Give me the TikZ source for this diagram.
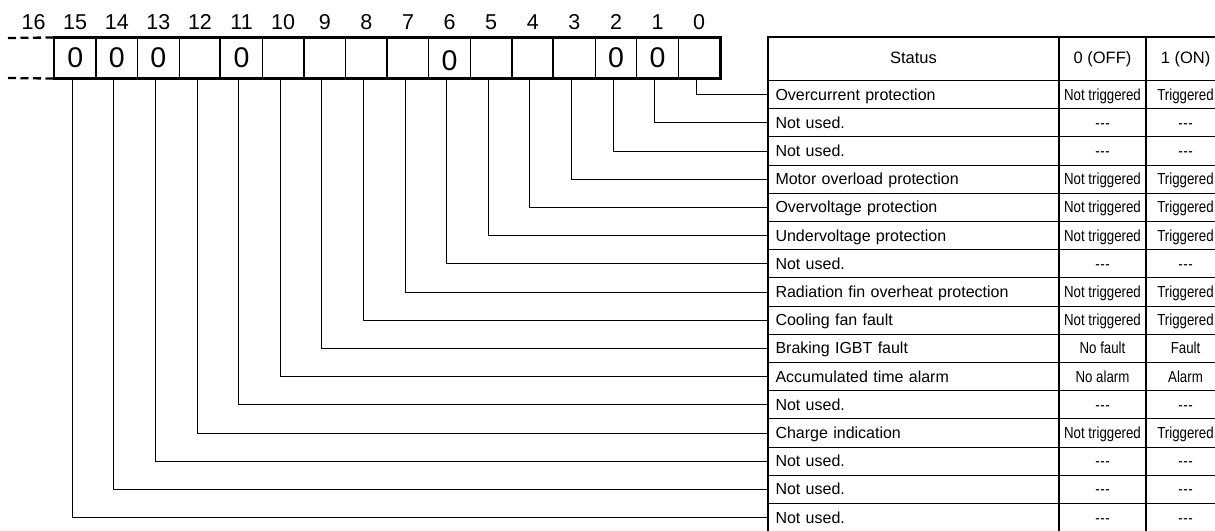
\documentclass[tikz,border=0pt]{standalone}
\usepackage{fontspec}
\setmainfont{Liberation Sans}
\newfontfamily\narrowfont[FakeStretch=0.83]{Liberation Sans}
\newcommand\nodash{-\kern0.6pt-\kern0.6pt-}
\usetikzlibrary{positioning}

\begin{document}
\begin{tikzpicture}[
  x=1pt, y=-1pt,
  bitbox/.style={draw, line width=1.1pt, minimum width=41.6pt, minimum height=40pt, inner sep=0pt},
  digit/.style={font=\fontsize{28.5}{28.5}\selectfont, inner sep=0pt},
  bitnum/.style={font=\fontsize{21.5}{21.5}\selectfont, inner sep=0pt},
  frame/.style={line width=2.3pt},
  leader/.style={line width=1pt},
  cell/.style={draw, line width=1pt, anchor=north west, minimum height=28.2pt, inner xsep=7pt, inner ysep=0pt, text height=13pt, text depth=2pt, font=\fontsize{16}{16}\selectfont},
  namecell/.style={cell, minimum width=290pt, text width=276pt, align=left},
  offcell/.style={cell, minimum width=86pt, inner xsep=0pt, font=\narrowfont\fontsize{16}{16}\selectfont},
  oncell/.style={cell, minimum width=78pt, inner xsep=0pt, font=\narrowfont\fontsize{16}{16}\selectfont},
  headcell/.style={cell, minimum height=43pt, inner xsep=0pt, text height=11.5pt, text depth=3.5pt, font=\fontsize{16.5}{16.5}\selectfont}
]
\useasboundingbox (0,0) rectangle (1215,530);
\clip (0,0) rectangle (1215,530);

\foreach \b in {0,...,15} {
  \node[bitbox] (bit-\b) at ({699.2-41.6*\b}, 58) {};
  \node[bitnum, above=7.5pt of bit-\b] (num-\b) {\b};
}
\node[bitnum, xshift=-41.6pt] (num-16) at (num-15) {16};
\foreach \b in {15,14,13,11,2,1}
  \node[digit] at (bit-\b) {0};
\node[digit, yshift=-3pt] at (bit-6) {0};

\draw[frame] (bit-15.north west) rectangle (bit-0.south east);
\foreach \b in {11,7,3}
  \draw[frame] (bit-\b.north west) -- (bit-\b.south west);
\coordinate (dash-top) at (8,38);
\coordinate (dash-bot) at (8,78);
\draw[frame, dash pattern=on 8pt off 4.5pt] (dash-top) -- (bit-15.north west);
\draw[frame, dash pattern=on 8pt off 4.5pt] (dash-bot) -- (bit-15.south west);

\node[headcell, minimum width=290pt] (head-status) at (768,37) {Status};
\node[headcell, minimum width=86pt] (head-off) at (head-status.north east) {0 (OFF)};
\node[headcell, minimum width=78pt] (head-on) at (head-off.north east) {1 (ON)};

\foreach \txt/\offtxt/\ontxt [count=\i from 0] in {
  Overcurrent protection/Not triggered/Triggered,
  Not used./\nodash/\nodash,
  Not used./\nodash/\nodash,
  Motor overload protection/Not triggered/Triggered,
  Overvoltage protection/Not triggered/Triggered,
  Undervoltage protection/Not triggered/Triggered,
  Not used./\nodash/\nodash,
  Radiation fin overheat protection/Not triggered/Triggered,
  Cooling fan fault/Not triggered/Triggered,
  Braking IGBT fault/No fault/Fault,
  Accumulated time alarm/No alarm/Alarm,
  Not used./\nodash/\nodash,
  Charge indication/Not triggered/Triggered,
  Not used./\nodash/\nodash,
  Not used./\nodash/\nodash,
  Not used./\nodash/\nodash} {
  \node[namecell] (row-\i) at (768, {80+28.2*\i}) {\txt};
  \node[offcell] (off-\i) at (row-\i.north east) {\offtxt};
  \node[oncell] (on-\i) at (off-\i.north east) {\ontxt};
}

\draw[frame] ([xshift=480pt]head-status.north west) -- (head-status.north west) -- ([yshift=-520pt]head-status.north west);

\foreach \b in {0,...,15}
  \draw[leader] ([xshift=-3pt]bit-\b.south) |- (row-\b.west);
\end{tikzpicture}
\end{document}
